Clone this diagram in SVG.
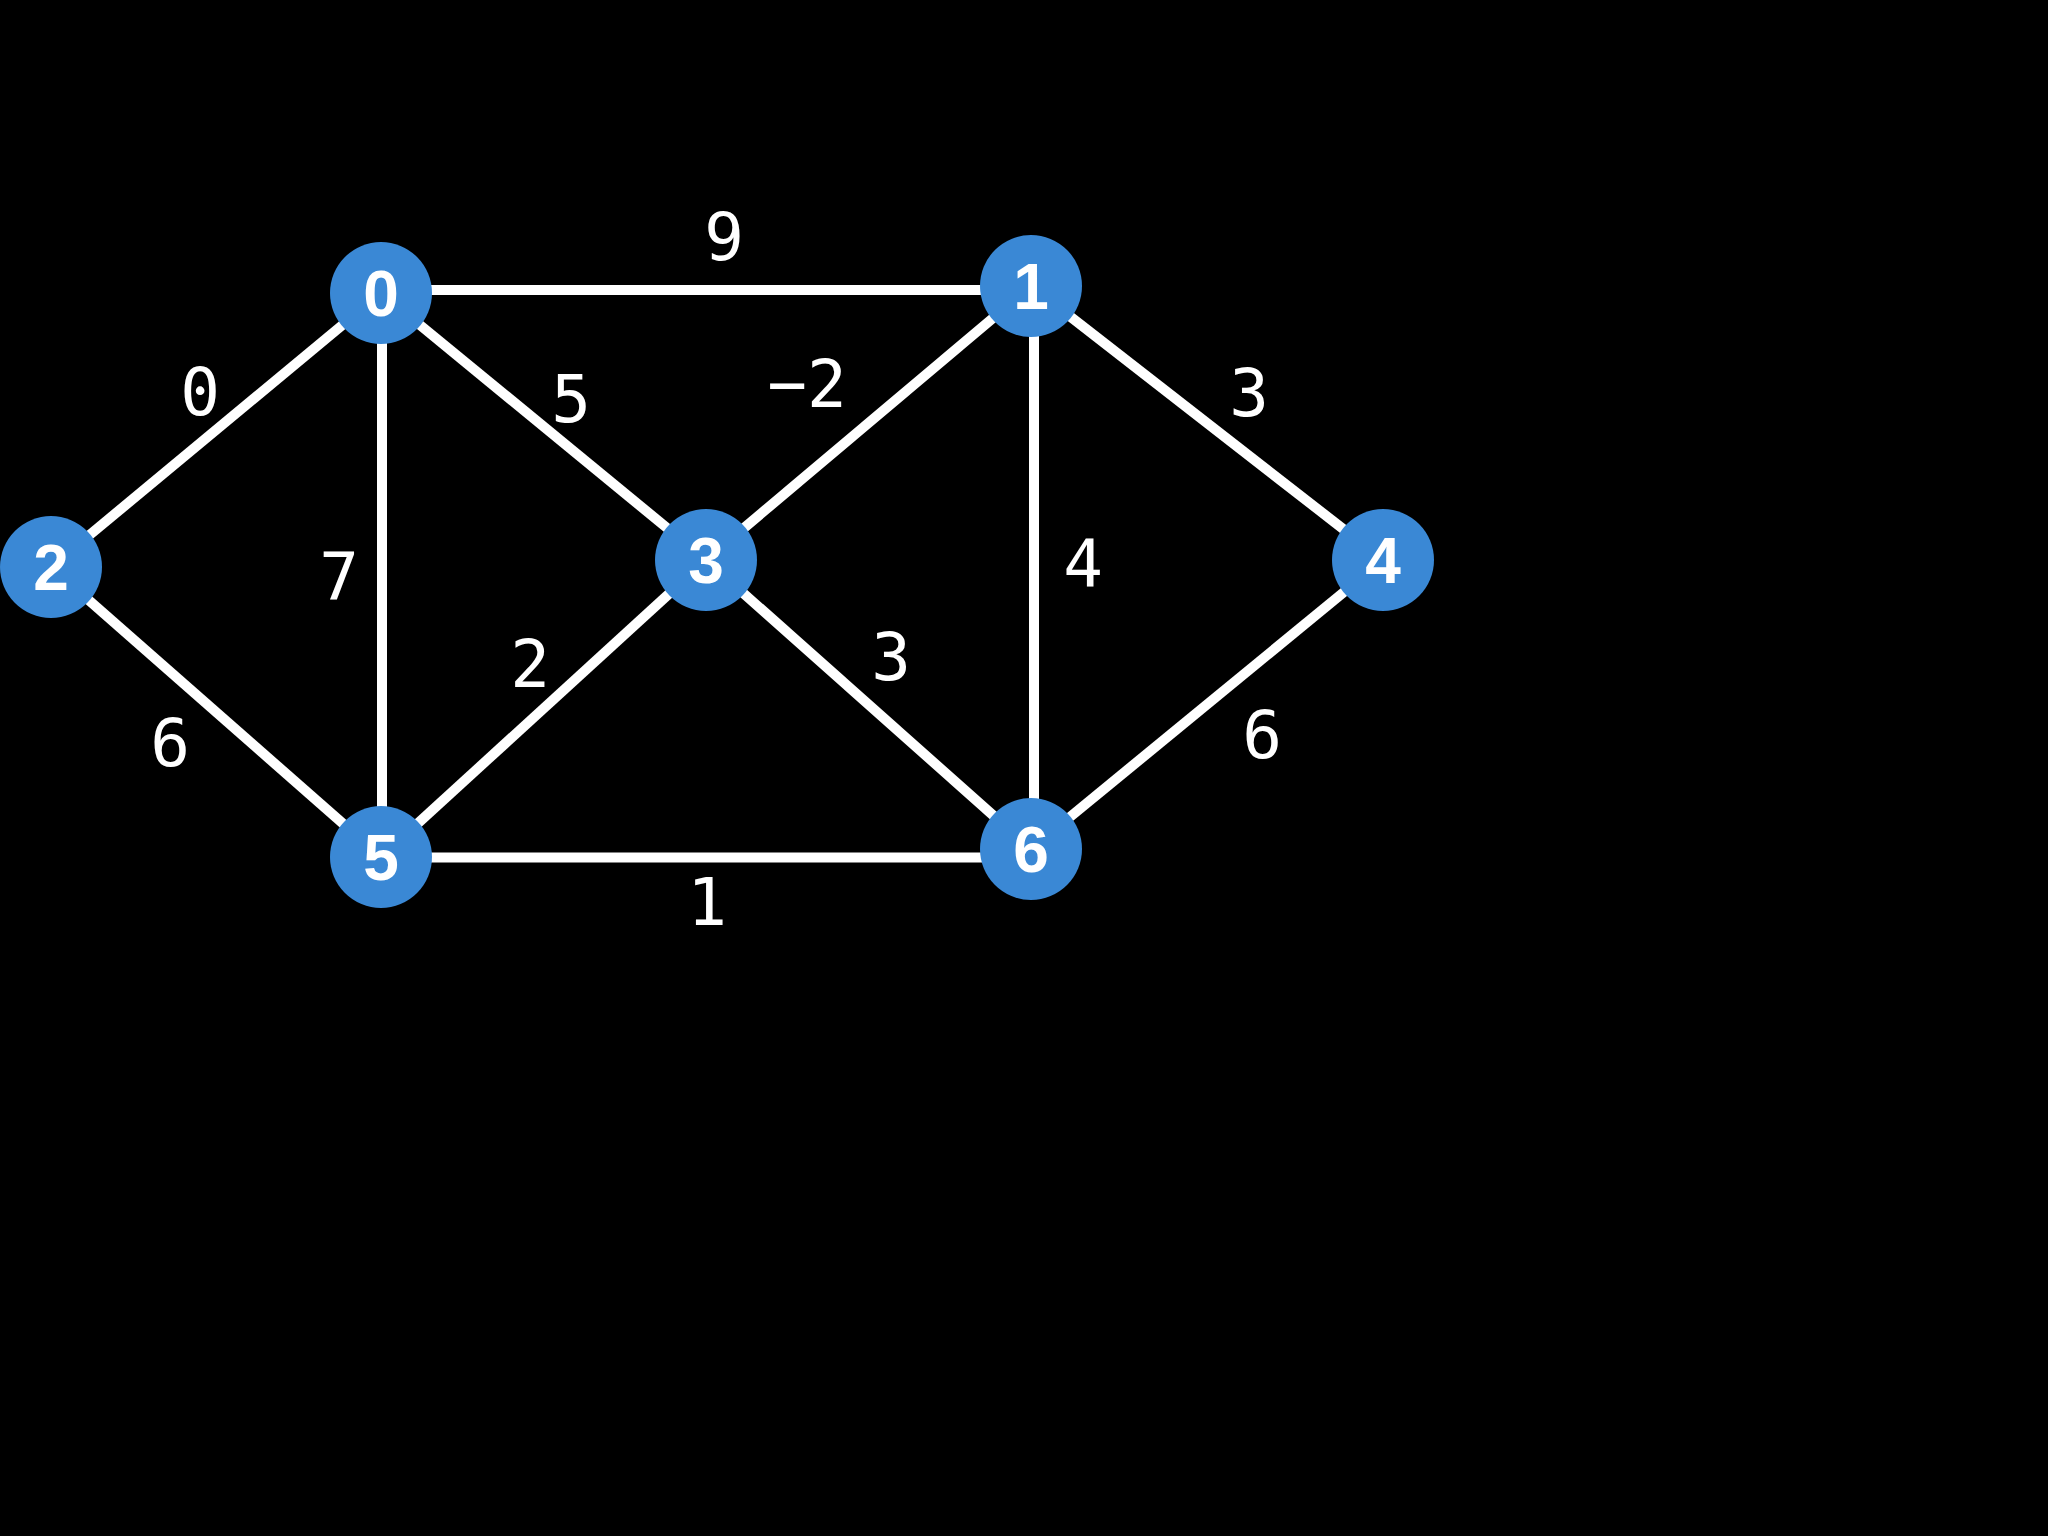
<svg xmlns="http://www.w3.org/2000/svg" width="2048" height="1536" viewBox="0 0 2048 1536">
<style>
.edge{stroke:#ffffff;stroke-width:10;fill:none}
.node{fill:#3a88d5}
.nl{font-family:"Liberation Sans",Arimo,Roboto,Arial,sans-serif;font-weight:700;font-size:64px;fill:#ffffff;text-anchor:middle}
.el{font-family:"DejaVu Sans Mono",monospace;font-size:66px;fill:#ffffff;text-anchor:middle}
</style>
<rect x="0" y="0" width="2048" height="1536" fill="#000000"/>
<g id="connectors">
<line class="edge" x1="381" y1="290" x2="1031" y2="290"/>
<line class="edge" x1="51" y1="567" x2="381" y2="293"/>
<line class="edge" x1="382" y1="293" x2="382" y2="857"/>
<line class="edge" x1="381" y1="293" x2="706" y2="560"/>
<line class="edge" x1="706" y1="560" x2="1031" y2="286"/>
<line class="edge" x1="1034" y1="286" x2="1034" y2="849"/>
<line class="edge" x1="1031" y1="286" x2="1383" y2="560"/>
<line class="edge" x1="51" y1="567" x2="381" y2="857"/>
<line class="edge" x1="381" y1="857" x2="706" y2="560"/>
<line class="edge" x1="706" y1="560" x2="1031" y2="849"/>
<line class="edge" x1="1383" y1="560" x2="1031" y2="849"/>
<line class="edge" x1="381" y1="857.5" x2="1031" y2="857.5"/>
</g>
<g id="edge-labels">
<text class="el" x="724" y="260">9</text>
<text class="el" x="200" y="415">0</text>
<text class="el" x="571" y="422">5</text>
<text class="el" x="807" y="407">−2</text>
<text class="el" x="1249" y="416">3</text>
<text class="el" x="339" y="600">7</text>
<text class="el" x="1083" y="586">4</text>
<text class="el" x="530" y="687">2</text>
<text class="el" x="891" y="680">3</text>
<text class="el" x="170" y="766">6</text>
<text class="el" x="1262" y="758">6</text>
<text class="el" x="707" y="925">1</text>
</g>
<g id="node0"><circle class="node" cx="381" cy="293" r="51"/><text class="nl" x="381" y="316">0</text></g>
<g id="node1"><circle class="node" cx="1031" cy="286" r="51"/><text class="nl" x="1031" y="309">1</text></g>
<g id="node2"><circle class="node" cx="51" cy="567" r="51"/><text class="nl" x="51" y="590">2</text></g>
<g id="node3"><circle class="node" cx="706" cy="560" r="51"/><text class="nl" x="706" y="583">3</text></g>
<g id="node4"><circle class="node" cx="1383" cy="560" r="51"/><text class="nl" x="1383" y="583">4</text></g>
<g id="node5"><circle class="node" cx="381" cy="857" r="51"/><text class="nl" x="381" y="880">5</text></g>
<g id="node6"><circle class="node" cx="1031" cy="849" r="51"/><text class="nl" x="1031" y="872">6</text></g>
</svg>
